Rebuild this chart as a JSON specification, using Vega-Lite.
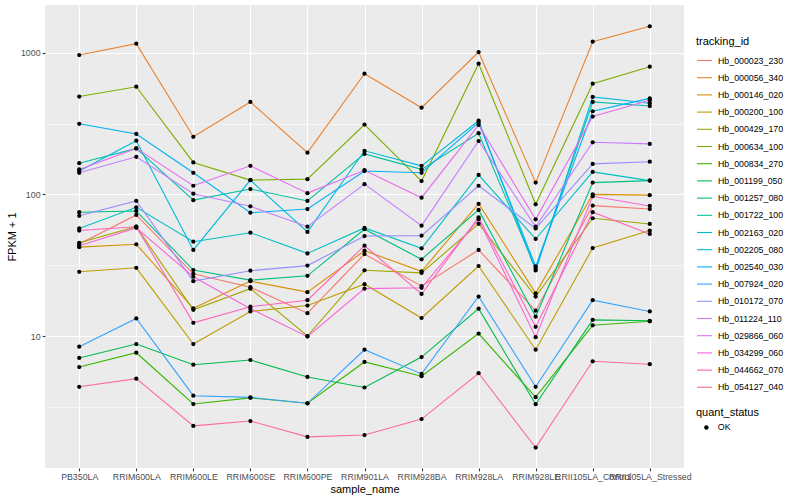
{
"$schema": "https://vega.github.io/schema/vega-lite/v6.json",
"width": 639, "height": 463,
"autosize": {"type": "none"},
"padding": {"left": 45, "top": 5, "right": 116, "bottom": 32},
"background": "white",
"config": {
 "view": {"fill": "#EBEBEB", "stroke": null},
 "font": "Liberation Sans",
 "axis": {"domain": false, "grid": true, "gridColor": "#FFFFFF", "gridWidth": 1.1, "tickColor": "#333333", "tickSize": 2.75, "tickWidth": 1.1, "labelColor": "#4D4D4D", "labelFontSize": 8.8, "labelFont": "Liberation Sans", "titleFont": "Liberation Sans", "titleFontSize": 11, "titleFontWeight": "normal", "titleColor": "#000000", "labelPadding": 2.2},
 "legend": {"labelFont": "Liberation Sans", "titleFont": "Liberation Sans", "labelFontSize": 8.8, "labelColor": "#000000", "titleFontSize": 11, "titleFontWeight": "normal", "titleColor": "#000000", "padding": 0, "titlePadding": 5}
},
"data": {"values": [
{"tracking_id":"Hb_000023_230","sample_name":"PB350LA","fpkm1":44.6,"quant_status":"OK"},
{"tracking_id":"Hb_000023_230","sample_name":"RRIM600LA","fpkm1":71.5,"quant_status":"OK"},
{"tracking_id":"Hb_000023_230","sample_name":"RRIM600LE","fpkm1":27.5,"quant_status":"OK"},
{"tracking_id":"Hb_000023_230","sample_name":"RRIM600SE","fpkm1":22.1,"quant_status":"OK"},
{"tracking_id":"Hb_000023_230","sample_name":"RRIM600PE","fpkm1":14.5,"quant_status":"OK"},
{"tracking_id":"Hb_000023_230","sample_name":"RRIM901LA","fpkm1":37.9,"quant_status":"OK"},
{"tracking_id":"Hb_000023_230","sample_name":"RRIM928BA","fpkm1":22.5,"quant_status":"OK"},
{"tracking_id":"Hb_000023_230","sample_name":"RRIM928LA","fpkm1":40.5,"quant_status":"OK"},
{"tracking_id":"Hb_000023_230","sample_name":"RRIM928LE","fpkm1":15.1,"quant_status":"OK"},
{"tracking_id":"Hb_000023_230","sample_name":"RRII105LA_Control","fpkm1":83.3,"quant_status":"OK"},
{"tracking_id":"Hb_000023_230","sample_name":"RRII105LA_Stressed","fpkm1":78.8,"quant_status":"OK"},
{"tracking_id":"Hb_000056_340","sample_name":"PB350LA","fpkm1":963,"quant_status":"OK"},
{"tracking_id":"Hb_000056_340","sample_name":"RRIM600LA","fpkm1":1157,"quant_status":"OK"},
{"tracking_id":"Hb_000056_340","sample_name":"RRIM600LE","fpkm1":255,"quant_status":"OK"},
{"tracking_id":"Hb_000056_340","sample_name":"RRIM600SE","fpkm1":449,"quant_status":"OK"},
{"tracking_id":"Hb_000056_340","sample_name":"RRIM600PE","fpkm1":197,"quant_status":"OK"},
{"tracking_id":"Hb_000056_340","sample_name":"RRIM901LA","fpkm1":711,"quant_status":"OK"},
{"tracking_id":"Hb_000056_340","sample_name":"RRIM928BA","fpkm1":409,"quant_status":"OK"},
{"tracking_id":"Hb_000056_340","sample_name":"RRIM928LA","fpkm1":1011,"quant_status":"OK"},
{"tracking_id":"Hb_000056_340","sample_name":"RRIM928LE","fpkm1":121,"quant_status":"OK"},
{"tracking_id":"Hb_000056_340","sample_name":"RRII105LA_Control","fpkm1":1196,"quant_status":"OK"},
{"tracking_id":"Hb_000056_340","sample_name":"RRII105LA_Stressed","fpkm1":1536,"quant_status":"OK"},
{"tracking_id":"Hb_000146_020","sample_name":"PB350LA","fpkm1":42.4,"quant_status":"OK"},
{"tracking_id":"Hb_000146_020","sample_name":"RRIM600LA","fpkm1":44.4,"quant_status":"OK"},
{"tracking_id":"Hb_000146_020","sample_name":"RRIM600LE","fpkm1":15.7,"quant_status":"OK"},
{"tracking_id":"Hb_000146_020","sample_name":"RRIM600SE","fpkm1":24.4,"quant_status":"OK"},
{"tracking_id":"Hb_000146_020","sample_name":"RRIM600PE","fpkm1":20.4,"quant_status":"OK"},
{"tracking_id":"Hb_000146_020","sample_name":"RRIM901LA","fpkm1":40.0,"quant_status":"OK"},
{"tracking_id":"Hb_000146_020","sample_name":"RRIM928BA","fpkm1":28.6,"quant_status":"OK"},
{"tracking_id":"Hb_000146_020","sample_name":"RRIM928LA","fpkm1":85.8,"quant_status":"OK"},
{"tracking_id":"Hb_000146_020","sample_name":"RRIM928LE","fpkm1":20.0,"quant_status":"OK"},
{"tracking_id":"Hb_000146_020","sample_name":"RRII105LA_Control","fpkm1":100,"quant_status":"OK"},
{"tracking_id":"Hb_000146_020","sample_name":"RRII105LA_Stressed","fpkm1":98.7,"quant_status":"OK"},
{"tracking_id":"Hb_000200_100","sample_name":"PB350LA","fpkm1":28.4,"quant_status":"OK"},
{"tracking_id":"Hb_000200_100","sample_name":"RRIM600LA","fpkm1":30.3,"quant_status":"OK"},
{"tracking_id":"Hb_000200_100","sample_name":"RRIM600LE","fpkm1":8.78,"quant_status":"OK"},
{"tracking_id":"Hb_000200_100","sample_name":"RRIM600SE","fpkm1":14.9,"quant_status":"OK"},
{"tracking_id":"Hb_000200_100","sample_name":"RRIM600PE","fpkm1":16.4,"quant_status":"OK"},
{"tracking_id":"Hb_000200_100","sample_name":"RRIM901LA","fpkm1":23.2,"quant_status":"OK"},
{"tracking_id":"Hb_000200_100","sample_name":"RRIM928BA","fpkm1":13.4,"quant_status":"OK"},
{"tracking_id":"Hb_000200_100","sample_name":"RRIM928LA","fpkm1":31.2,"quant_status":"OK"},
{"tracking_id":"Hb_000200_100","sample_name":"RRIM928LE","fpkm1":8.0,"quant_status":"OK"},
{"tracking_id":"Hb_000200_100","sample_name":"RRII105LA_Control","fpkm1":41.8,"quant_status":"OK"},
{"tracking_id":"Hb_000200_100","sample_name":"RRII105LA_Stressed","fpkm1":55.5,"quant_status":"OK"},
{"tracking_id":"Hb_000429_170","sample_name":"PB350LA","fpkm1":45.5,"quant_status":"OK"},
{"tracking_id":"Hb_000429_170","sample_name":"RRIM600LA","fpkm1":59.1,"quant_status":"OK"},
{"tracking_id":"Hb_000429_170","sample_name":"RRIM600LE","fpkm1":15.3,"quant_status":"OK"},
{"tracking_id":"Hb_000429_170","sample_name":"RRIM600SE","fpkm1":21.6,"quant_status":"OK"},
{"tracking_id":"Hb_000429_170","sample_name":"RRIM600PE","fpkm1":10.0,"quant_status":"OK"},
{"tracking_id":"Hb_000429_170","sample_name":"RRIM901LA","fpkm1":29.1,"quant_status":"OK"},
{"tracking_id":"Hb_000429_170","sample_name":"RRIM928BA","fpkm1":27.9,"quant_status":"OK"},
{"tracking_id":"Hb_000429_170","sample_name":"RRIM928LA","fpkm1":62.0,"quant_status":"OK"},
{"tracking_id":"Hb_000429_170","sample_name":"RRIM928LE","fpkm1":19.0,"quant_status":"OK"},
{"tracking_id":"Hb_000429_170","sample_name":"RRII105LA_Control","fpkm1":67.8,"quant_status":"OK"},
{"tracking_id":"Hb_000429_170","sample_name":"RRII105LA_Stressed","fpkm1":61.8,"quant_status":"OK"},
{"tracking_id":"Hb_000634_100","sample_name":"PB350LA","fpkm1":490,"quant_status":"OK"},
{"tracking_id":"Hb_000634_100","sample_name":"RRIM600LA","fpkm1":575,"quant_status":"OK"},
{"tracking_id":"Hb_000634_100","sample_name":"RRIM600LE","fpkm1":168,"quant_status":"OK"},
{"tracking_id":"Hb_000634_100","sample_name":"RRIM600SE","fpkm1":126,"quant_status":"OK"},
{"tracking_id":"Hb_000634_100","sample_name":"RRIM600PE","fpkm1":128,"quant_status":"OK"},
{"tracking_id":"Hb_000634_100","sample_name":"RRIM901LA","fpkm1":311,"quant_status":"OK"},
{"tracking_id":"Hb_000634_100","sample_name":"RRIM928BA","fpkm1":124,"quant_status":"OK"},
{"tracking_id":"Hb_000634_100","sample_name":"RRIM928LA","fpkm1":836,"quant_status":"OK"},
{"tracking_id":"Hb_000634_100","sample_name":"RRIM928LE","fpkm1":85.1,"quant_status":"OK"},
{"tracking_id":"Hb_000634_100","sample_name":"RRII105LA_Control","fpkm1":604,"quant_status":"OK"},
{"tracking_id":"Hb_000634_100","sample_name":"RRII105LA_Stressed","fpkm1":796,"quant_status":"OK"},
{"tracking_id":"Hb_000834_270","sample_name":"PB350LA","fpkm1":6.04,"quant_status":"OK"},
{"tracking_id":"Hb_000834_270","sample_name":"RRIM600LA","fpkm1":7.62,"quant_status":"OK"},
{"tracking_id":"Hb_000834_270","sample_name":"RRIM600LE","fpkm1":3.31,"quant_status":"OK"},
{"tracking_id":"Hb_000834_270","sample_name":"RRIM600SE","fpkm1":3.66,"quant_status":"OK"},
{"tracking_id":"Hb_000834_270","sample_name":"RRIM600PE","fpkm1":3.35,"quant_status":"OK"},
{"tracking_id":"Hb_000834_270","sample_name":"RRIM901LA","fpkm1":6.56,"quant_status":"OK"},
{"tracking_id":"Hb_000834_270","sample_name":"RRIM928BA","fpkm1":5.2,"quant_status":"OK"},
{"tracking_id":"Hb_000834_270","sample_name":"RRIM928LA","fpkm1":10.4,"quant_status":"OK"},
{"tracking_id":"Hb_000834_270","sample_name":"RRIM928LE","fpkm1":3.7,"quant_status":"OK"},
{"tracking_id":"Hb_000834_270","sample_name":"RRII105LA_Control","fpkm1":11.9,"quant_status":"OK"},
{"tracking_id":"Hb_000834_270","sample_name":"RRII105LA_Stressed","fpkm1":12.7,"quant_status":"OK"},
{"tracking_id":"Hb_001199_050","sample_name":"PB350LA","fpkm1":7.0,"quant_status":"OK"},
{"tracking_id":"Hb_001199_050","sample_name":"RRIM600LA","fpkm1":8.78,"quant_status":"OK"},
{"tracking_id":"Hb_001199_050","sample_name":"RRIM600LE","fpkm1":6.27,"quant_status":"OK"},
{"tracking_id":"Hb_001199_050","sample_name":"RRIM600SE","fpkm1":6.77,"quant_status":"OK"},
{"tracking_id":"Hb_001199_050","sample_name":"RRIM600PE","fpkm1":5.14,"quant_status":"OK"},
{"tracking_id":"Hb_001199_050","sample_name":"RRIM901LA","fpkm1":4.33,"quant_status":"OK"},
{"tracking_id":"Hb_001199_050","sample_name":"RRIM928BA","fpkm1":7.1,"quant_status":"OK"},
{"tracking_id":"Hb_001199_050","sample_name":"RRIM928LA","fpkm1":15.6,"quant_status":"OK"},
{"tracking_id":"Hb_001199_050","sample_name":"RRIM928LE","fpkm1":3.3,"quant_status":"OK"},
{"tracking_id":"Hb_001199_050","sample_name":"RRII105LA_Control","fpkm1":13.0,"quant_status":"OK"},
{"tracking_id":"Hb_001199_050","sample_name":"RRII105LA_Stressed","fpkm1":12.8,"quant_status":"OK"},
{"tracking_id":"Hb_001257_080","sample_name":"PB350LA","fpkm1":74.8,"quant_status":"OK"},
{"tracking_id":"Hb_001257_080","sample_name":"RRIM600LA","fpkm1":76.3,"quant_status":"OK"},
{"tracking_id":"Hb_001257_080","sample_name":"RRIM600LE","fpkm1":29.2,"quant_status":"OK"},
{"tracking_id":"Hb_001257_080","sample_name":"RRIM600SE","fpkm1":24.8,"quant_status":"OK"},
{"tracking_id":"Hb_001257_080","sample_name":"RRIM600PE","fpkm1":26.6,"quant_status":"OK"},
{"tracking_id":"Hb_001257_080","sample_name":"RRIM901LA","fpkm1":56.7,"quant_status":"OK"},
{"tracking_id":"Hb_001257_080","sample_name":"RRIM928BA","fpkm1":34.8,"quant_status":"OK"},
{"tracking_id":"Hb_001257_080","sample_name":"RRIM928LA","fpkm1":77.6,"quant_status":"OK"},
{"tracking_id":"Hb_001257_080","sample_name":"RRIM928LE","fpkm1":13.7,"quant_status":"OK"},
{"tracking_id":"Hb_001257_080","sample_name":"RRII105LA_Control","fpkm1":121,"quant_status":"OK"},
{"tracking_id":"Hb_001257_080","sample_name":"RRII105LA_Stressed","fpkm1":125,"quant_status":"OK"},
{"tracking_id":"Hb_001722_100","sample_name":"PB350LA","fpkm1":166,"quant_status":"OK"},
{"tracking_id":"Hb_001722_100","sample_name":"RRIM600LA","fpkm1":211,"quant_status":"OK"},
{"tracking_id":"Hb_001722_100","sample_name":"RRIM600LE","fpkm1":91,"quant_status":"OK"},
{"tracking_id":"Hb_001722_100","sample_name":"RRIM600SE","fpkm1":109,"quant_status":"OK"},
{"tracking_id":"Hb_001722_100","sample_name":"RRIM600PE","fpkm1":89.8,"quant_status":"OK"},
{"tracking_id":"Hb_001722_100","sample_name":"RRIM901LA","fpkm1":193,"quant_status":"OK"},
{"tracking_id":"Hb_001722_100","sample_name":"RRIM928BA","fpkm1":150,"quant_status":"OK"},
{"tracking_id":"Hb_001722_100","sample_name":"RRIM928LA","fpkm1":270,"quant_status":"OK"},
{"tracking_id":"Hb_001722_100","sample_name":"RRIM928LE","fpkm1":30.0,"quant_status":"OK"},
{"tracking_id":"Hb_001722_100","sample_name":"RRII105LA_Control","fpkm1":449,"quant_status":"OK"},
{"tracking_id":"Hb_001722_100","sample_name":"RRII105LA_Stressed","fpkm1":420,"quant_status":"OK"},
{"tracking_id":"Hb_002163_020","sample_name":"PB350LA","fpkm1":57.5,"quant_status":"OK"},
{"tracking_id":"Hb_002163_020","sample_name":"RRIM600LA","fpkm1":81.0,"quant_status":"OK"},
{"tracking_id":"Hb_002163_020","sample_name":"RRIM600LE","fpkm1":46.3,"quant_status":"OK"},
{"tracking_id":"Hb_002163_020","sample_name":"RRIM600SE","fpkm1":53.6,"quant_status":"OK"},
{"tracking_id":"Hb_002163_020","sample_name":"RRIM600PE","fpkm1":38.3,"quant_status":"OK"},
{"tracking_id":"Hb_002163_020","sample_name":"RRIM901LA","fpkm1":57.9,"quant_status":"OK"},
{"tracking_id":"Hb_002163_020","sample_name":"RRIM928BA","fpkm1":41.6,"quant_status":"OK"},
{"tracking_id":"Hb_002163_020","sample_name":"RRIM928LA","fpkm1":137,"quant_status":"OK"},
{"tracking_id":"Hb_002163_020","sample_name":"RRIM928LE","fpkm1":48.4,"quant_status":"OK"},
{"tracking_id":"Hb_002163_020","sample_name":"RRII105LA_Control","fpkm1":144,"quant_status":"OK"},
{"tracking_id":"Hb_002163_020","sample_name":"RRII105LA_Stressed","fpkm1":125,"quant_status":"OK"},
{"tracking_id":"Hb_002205_080","sample_name":"PB350LA","fpkm1":146,"quant_status":"OK"},
{"tracking_id":"Hb_002205_080","sample_name":"RRIM600LA","fpkm1":239,"quant_status":"OK"},
{"tracking_id":"Hb_002205_080","sample_name":"RRIM600LE","fpkm1":40.5,"quant_status":"OK"},
{"tracking_id":"Hb_002205_080","sample_name":"RRIM600SE","fpkm1":126,"quant_status":"OK"},
{"tracking_id":"Hb_002205_080","sample_name":"RRIM600PE","fpkm1":54.3,"quant_status":"OK"},
{"tracking_id":"Hb_002205_080","sample_name":"RRIM901LA","fpkm1":203,"quant_status":"OK"},
{"tracking_id":"Hb_002205_080","sample_name":"RRIM928BA","fpkm1":159,"quant_status":"OK"},
{"tracking_id":"Hb_002205_080","sample_name":"RRIM928LA","fpkm1":331,"quant_status":"OK"},
{"tracking_id":"Hb_002205_080","sample_name":"RRIM928LE","fpkm1":29.0,"quant_status":"OK"},
{"tracking_id":"Hb_002205_080","sample_name":"RRII105LA_Control","fpkm1":487,"quant_status":"OK"},
{"tracking_id":"Hb_002205_080","sample_name":"RRII105LA_Stressed","fpkm1":440,"quant_status":"OK"},
{"tracking_id":"Hb_002540_030","sample_name":"PB350LA","fpkm1":315,"quant_status":"OK"},
{"tracking_id":"Hb_002540_030","sample_name":"RRIM600LA","fpkm1":267,"quant_status":"OK"},
{"tracking_id":"Hb_002540_030","sample_name":"RRIM600LE","fpkm1":142,"quant_status":"OK"},
{"tracking_id":"Hb_002540_030","sample_name":"RRIM600SE","fpkm1":74.2,"quant_status":"OK"},
{"tracking_id":"Hb_002540_030","sample_name":"RRIM600PE","fpkm1":78.8,"quant_status":"OK"},
{"tracking_id":"Hb_002540_030","sample_name":"RRIM901LA","fpkm1":146,"quant_status":"OK"},
{"tracking_id":"Hb_002540_030","sample_name":"RRIM928BA","fpkm1":142,"quant_status":"OK"},
{"tracking_id":"Hb_002540_030","sample_name":"RRIM928LA","fpkm1":321,"quant_status":"OK"},
{"tracking_id":"Hb_002540_030","sample_name":"RRIM928LE","fpkm1":31.0,"quant_status":"OK"},
{"tracking_id":"Hb_002540_030","sample_name":"RRII105LA_Control","fpkm1":386,"quant_status":"OK"},
{"tracking_id":"Hb_002540_030","sample_name":"RRII105LA_Stressed","fpkm1":476,"quant_status":"OK"},
{"tracking_id":"Hb_007924_020","sample_name":"PB350LA","fpkm1":8.4,"quant_status":"OK"},
{"tracking_id":"Hb_007924_020","sample_name":"RRIM600LA","fpkm1":13.3,"quant_status":"OK"},
{"tracking_id":"Hb_007924_020","sample_name":"RRIM600LE","fpkm1":3.79,"quant_status":"OK"},
{"tracking_id":"Hb_007924_020","sample_name":"RRIM600SE","fpkm1":3.69,"quant_status":"OK"},
{"tracking_id":"Hb_007924_020","sample_name":"RRIM600PE","fpkm1":3.35,"quant_status":"OK"},
{"tracking_id":"Hb_007924_020","sample_name":"RRIM901LA","fpkm1":8.0,"quant_status":"OK"},
{"tracking_id":"Hb_007924_020","sample_name":"RRIM928BA","fpkm1":5.4,"quant_status":"OK"},
{"tracking_id":"Hb_007924_020","sample_name":"RRIM928LA","fpkm1":19.0,"quant_status":"OK"},
{"tracking_id":"Hb_007924_020","sample_name":"RRIM928LE","fpkm1":4.38,"quant_status":"OK"},
{"tracking_id":"Hb_007924_020","sample_name":"RRII105LA_Control","fpkm1":17.9,"quant_status":"OK"},
{"tracking_id":"Hb_007924_020","sample_name":"RRII105LA_Stressed","fpkm1":14.9,"quant_status":"OK"},
{"tracking_id":"Hb_010172_070","sample_name":"PB350LA","fpkm1":70.6,"quant_status":"OK"},
{"tracking_id":"Hb_010172_070","sample_name":"RRIM600LA","fpkm1":89.8,"quant_status":"OK"},
{"tracking_id":"Hb_010172_070","sample_name":"RRIM600LE","fpkm1":24.4,"quant_status":"OK"},
{"tracking_id":"Hb_010172_070","sample_name":"RRIM600SE","fpkm1":28.9,"quant_status":"OK"},
{"tracking_id":"Hb_010172_070","sample_name":"RRIM600PE","fpkm1":31.4,"quant_status":"OK"},
{"tracking_id":"Hb_010172_070","sample_name":"RRIM901LA","fpkm1":50.8,"quant_status":"OK"},
{"tracking_id":"Hb_010172_070","sample_name":"RRIM928BA","fpkm1":51.1,"quant_status":"OK"},
{"tracking_id":"Hb_010172_070","sample_name":"RRIM928LA","fpkm1":115,"quant_status":"OK"},
{"tracking_id":"Hb_010172_070","sample_name":"RRIM928LE","fpkm1":57.4,"quant_status":"OK"},
{"tracking_id":"Hb_010172_070","sample_name":"RRII105LA_Control","fpkm1":164,"quant_status":"OK"},
{"tracking_id":"Hb_010172_070","sample_name":"RRII105LA_Stressed","fpkm1":170,"quant_status":"OK"},
{"tracking_id":"Hb_011224_110","sample_name":"PB350LA","fpkm1":142,"quant_status":"OK"},
{"tracking_id":"Hb_011224_110","sample_name":"RRIM600LA","fpkm1":184,"quant_status":"OK"},
{"tracking_id":"Hb_011224_110","sample_name":"RRIM600LE","fpkm1":101,"quant_status":"OK"},
{"tracking_id":"Hb_011224_110","sample_name":"RRIM600SE","fpkm1":82.4,"quant_status":"OK"},
{"tracking_id":"Hb_011224_110","sample_name":"RRIM600PE","fpkm1":59.1,"quant_status":"OK"},
{"tracking_id":"Hb_011224_110","sample_name":"RRIM901LA","fpkm1":118,"quant_status":"OK"},
{"tracking_id":"Hb_011224_110","sample_name":"RRIM928BA","fpkm1":60.1,"quant_status":"OK"},
{"tracking_id":"Hb_011224_110","sample_name":"RRIM928LA","fpkm1":238,"quant_status":"OK"},
{"tracking_id":"Hb_011224_110","sample_name":"RRIM928LE","fpkm1":59.1,"quant_status":"OK"},
{"tracking_id":"Hb_011224_110","sample_name":"RRII105LA_Control","fpkm1":233,"quant_status":"OK"},
{"tracking_id":"Hb_011224_110","sample_name":"RRII105LA_Stressed","fpkm1":227,"quant_status":"OK"},
{"tracking_id":"Hb_029866_060","sample_name":"PB350LA","fpkm1":150,"quant_status":"OK"},
{"tracking_id":"Hb_029866_060","sample_name":"RRIM600LA","fpkm1":211,"quant_status":"OK"},
{"tracking_id":"Hb_029866_060","sample_name":"RRIM600LE","fpkm1":115,"quant_status":"OK"},
{"tracking_id":"Hb_029866_060","sample_name":"RRIM600SE","fpkm1":159,"quant_status":"OK"},
{"tracking_id":"Hb_029866_060","sample_name":"RRIM600PE","fpkm1":102,"quant_status":"OK"},
{"tracking_id":"Hb_029866_060","sample_name":"RRIM901LA","fpkm1":148,"quant_status":"OK"},
{"tracking_id":"Hb_029866_060","sample_name":"RRIM928BA","fpkm1":94.7,"quant_status":"OK"},
{"tracking_id":"Hb_029866_060","sample_name":"RRIM928LA","fpkm1":309,"quant_status":"OK"},
{"tracking_id":"Hb_029866_060","sample_name":"RRIM928LE","fpkm1":66.6,"quant_status":"OK"},
{"tracking_id":"Hb_029866_060","sample_name":"RRII105LA_Control","fpkm1":354,"quant_status":"OK"},
{"tracking_id":"Hb_029866_060","sample_name":"RRII105LA_Stressed","fpkm1":462,"quant_status":"OK"},
{"tracking_id":"Hb_034299_060","sample_name":"PB350LA","fpkm1":43.3,"quant_status":"OK"},
{"tracking_id":"Hb_034299_060","sample_name":"RRIM600LA","fpkm1":58.0,"quant_status":"OK"},
{"tracking_id":"Hb_034299_060","sample_name":"RRIM600LE","fpkm1":26.2,"quant_status":"OK"},
{"tracking_id":"Hb_034299_060","sample_name":"RRIM600SE","fpkm1":15.6,"quant_status":"OK"},
{"tracking_id":"Hb_034299_060","sample_name":"RRIM600PE","fpkm1":9.9,"quant_status":"OK"},
{"tracking_id":"Hb_034299_060","sample_name":"RRIM901LA","fpkm1":21.6,"quant_status":"OK"},
{"tracking_id":"Hb_034299_060","sample_name":"RRIM928BA","fpkm1":21.9,"quant_status":"OK"},
{"tracking_id":"Hb_034299_060","sample_name":"RRIM928LA","fpkm1":66.6,"quant_status":"OK"},
{"tracking_id":"Hb_034299_060","sample_name":"RRIM928LE","fpkm1":9.8,"quant_status":"OK"},
{"tracking_id":"Hb_034299_060","sample_name":"RRII105LA_Control","fpkm1":96.9,"quant_status":"OK"},
{"tracking_id":"Hb_034299_060","sample_name":"RRII105LA_Stressed","fpkm1":82.8,"quant_status":"OK"},
{"tracking_id":"Hb_044662_070","sample_name":"PB350LA","fpkm1":55.5,"quant_status":"OK"},
{"tracking_id":"Hb_044662_070","sample_name":"RRIM600LA","fpkm1":59.1,"quant_status":"OK"},
{"tracking_id":"Hb_044662_070","sample_name":"RRIM600LE","fpkm1":12.4,"quant_status":"OK"},
{"tracking_id":"Hb_044662_070","sample_name":"RRIM600SE","fpkm1":16.1,"quant_status":"OK"},
{"tracking_id":"Hb_044662_070","sample_name":"RRIM600PE","fpkm1":17.9,"quant_status":"OK"},
{"tracking_id":"Hb_044662_070","sample_name":"RRIM901LA","fpkm1":43.4,"quant_status":"OK"},
{"tracking_id":"Hb_044662_070","sample_name":"RRIM928BA","fpkm1":19.8,"quant_status":"OK"},
{"tracking_id":"Hb_044662_070","sample_name":"RRIM928LA","fpkm1":68.9,"quant_status":"OK"},
{"tracking_id":"Hb_044662_070","sample_name":"RRIM928LE","fpkm1":11.6,"quant_status":"OK"},
{"tracking_id":"Hb_044662_070","sample_name":"RRII105LA_Control","fpkm1":74.8,"quant_status":"OK"},
{"tracking_id":"Hb_044662_070","sample_name":"RRII105LA_Stressed","fpkm1":52.5,"quant_status":"OK"},
{"tracking_id":"Hb_054127_040","sample_name":"PB350LA","fpkm1":4.38,"quant_status":"OK"},
{"tracking_id":"Hb_054127_040","sample_name":"RRIM600LA","fpkm1":5.0,"quant_status":"OK"},
{"tracking_id":"Hb_054127_040","sample_name":"RRIM600LE","fpkm1":2.32,"quant_status":"OK"},
{"tracking_id":"Hb_054127_040","sample_name":"RRIM600SE","fpkm1":2.51,"quant_status":"OK"},
{"tracking_id":"Hb_054127_040","sample_name":"RRIM600PE","fpkm1":1.94,"quant_status":"OK"},
{"tracking_id":"Hb_054127_040","sample_name":"RRIM901LA","fpkm1":2.0,"quant_status":"OK"},
{"tracking_id":"Hb_054127_040","sample_name":"RRIM928BA","fpkm1":2.59,"quant_status":"OK"},
{"tracking_id":"Hb_054127_040","sample_name":"RRIM928LA","fpkm1":5.46,"quant_status":"OK"},
{"tracking_id":"Hb_054127_040","sample_name":"RRIM928LE","fpkm1":1.63,"quant_status":"OK"},
{"tracking_id":"Hb_054127_040","sample_name":"RRII105LA_Control","fpkm1":6.63,"quant_status":"OK"},
{"tracking_id":"Hb_054127_040","sample_name":"RRII105LA_Stressed","fpkm1":6.32,"quant_status":"OK"}
]},
"encoding": {
 "x": {"field": "sample_name", "type": "nominal",
   "scale": {"type": "point", "padding": 0.6, "domain": ["PB350LA","RRIM600LA","RRIM600LE","RRIM600SE","RRIM600PE","RRIM901LA","RRIM928BA","RRIM928LA","RRIM928LE","RRII105LA_Control","RRII105LA_Stressed"]},
   "axis": {"title": "sample_name", "labelAngle": 0, "labelOverlap": false, "labelBound": false, "titlePadding": 2}},
 "y": {"field": "fpkm1", "type": "quantitative",
   "scale": {"type": "log", "domain": [1.17, 2171], "nice": false},
   "axis": {"title": "FPKM + 1", "values": [3.1623, 10, 31.623, 100, 316.23, 1000], "format": "d",
     "labelExpr": "(datum.value == 10 || datum.value == 100 || datum.value == 1000) ? datum.label : ''",
     "gridWidth": {"condition": {"test": "datum.value == 10 || datum.value == 100 || datum.value == 1000", "value": 1.1}, "value": 0.55},
     "tickColor": {"condition": {"test": "datum.value == 10 || datum.value == 100 || datum.value == 1000", "value": "#333333"}, "value": "transparent"},
     "titlePadding": 3}}
},
"layer": [
 {"mark": {"type": "line", "strokeWidth": 1.1},
  "encoding": {
   "color": {"field": "tracking_id", "type": "nominal",
     "scale": {"range": ["#F8766D","#EA8331","#D89000","#C09B00","#A3A500","#7CAE00","#39B600","#00BB4E","#00BF7D","#00C1A3","#00BFC4","#00BAE0","#00B0F6","#35A2FF","#9590FF","#C77CFF","#E76BF3","#FA62DB","#FF62BC","#FF6C91"]},
     "legend": {"orient": "none", "legendX": 651, "legendY": 31, "title": "tracking_id", "symbolType": "stroke", "symbolStrokeWidth": 1.1, "symbolSize": 225, "rowPadding": 3.2, "labelOffset": 5}},
   "order": {"value": null}}},
 {"mark": {"type": "point", "filled": true, "color": "#000000", "size": 18, "opacity": 1},
  "encoding": {
   "shape": {"field": "quant_status", "type": "nominal", "scale": {"range": ["circle"]},
     "legend": {"orient": "none", "legendX": 651, "legendY": 402, "title": "quant_status", "symbolSize": 20, "symbolFillColor": "#000000", "symbolStrokeColor": "#000000", "symbolOffset": 6, "labelOffset": 7}}}}
]
}
